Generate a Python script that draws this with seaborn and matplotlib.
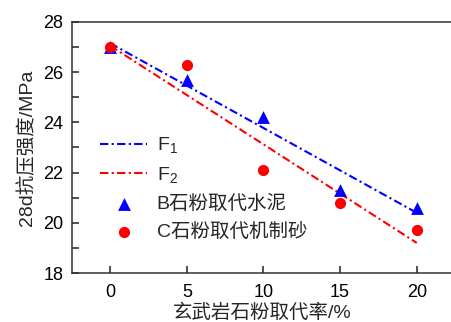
import matplotlib
matplotlib.use("Agg")
import matplotlib.pyplot as plt
import seaborn as sns
import pandas as pd

# data
rate = [0, 5, 10, 15, 20]
b_strength = [27.0, 25.7, 24.2, 21.3, 20.6]
c_strength = [27.0, 26.3, 22.1, 20.8, 19.7]
fit_x = [0, 20]
f1_y = [27.15, 20.4]
f2_y = [27.05, 19.2]
x_ticks = [0, 5, 10, 15, 20]
y_ticks = [18, 20, 22, 24, 26, 28]

sns.set_theme(style="ticks")
plt.rcParams['font.family'] = ['Liberation Sans', 'Noto Sans CJK SC', 'DejaVu Sans']
plt.rcParams['mathtext.fontset'] = 'custom'
plt.rcParams['mathtext.rm'] = 'Liberation Sans'
plt.rcParams['mathtext.default'] = 'regular'

fig = plt.figure(figsize=(4.52, 3.22), dpi=100)
ax = fig.add_axes([0.159, 0.152, 0.841, 0.780])

dash = (0, (4, 1.6, 1, 1.6))
sns.lineplot(x=fit_x, y=f1_y, ax=ax, color='#0000ff', lw=1.5, linestyle=dash, label='F$_1$')
sns.lineplot(x=fit_x, y=f2_y, ax=ax, color='#ff0000', lw=1.5, linestyle=dash, label='F$_2$')
sns.scatterplot(x=rate, y=b_strength, ax=ax, color='#0000ff', marker='^', s=85,
                linewidth=0, label='B石粉取代水泥', zorder=3)
sns.scatterplot(x=rate, y=c_strength, ax=ax, color='#ff0000', marker='o', s=65,
                linewidth=0, label='C石粉取代机制砂', zorder=3)

ax.set_xlim(-2.5, 22.3)
ax.set_ylim(18, 28)
ax.set_xticks(x_ticks)
ax.set_yticks(y_ticks)
ax.set_yticks([19, 21, 23, 25, 27], minor=True)
ax.tick_params(axis='both', which='both', direction='in', length=5, width=1.1,
               colors='#222222', labelsize=13, labelcolor='black')
ax.tick_params(axis='y', pad=6)
ax.tick_params(axis='x', pad=8)
for side in ['left', 'bottom', 'top']:
    ax.spines[side].set_linewidth(1.1)
    ax.spines[side].set_color('#333333')
ax.spines['right'].set_visible(False)

ax.set_xlabel('玄武岩石粉取代率/%', fontsize=14, labelpad=2)
ax.set_ylabel('28d抗压强度/MPa', fontsize=14, labelpad=5)

ax.legend(loc='upper left', bbox_to_anchor=(0.075, 0.548), frameon=False,
          fontsize=14, handlelength=2.4, handletextpad=0.5, labelspacing=0.5,
          borderaxespad=0, borderpad=0)

fig.savefig('out.png', dpi=100)
